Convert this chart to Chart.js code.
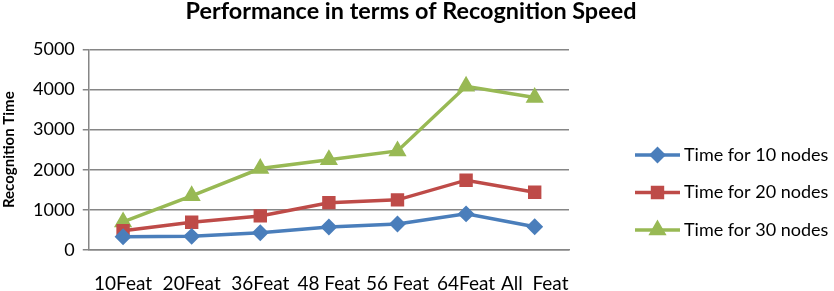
<!DOCTYPE html>
<html>
<head>
<meta charset="utf-8">
<script src="https://cdn.jsdelivr.net/npm/chart.js@4"></script>
<style>
  html, body { margin: 0; padding: 0; background: #fff; }
  #wrap { width: 834px; height: 291px; }
</style>
</head>
<body>
<div id="wrap"><canvas id="chart" width="834" height="291"></canvas></div>
<script>
// Data
const categories = ['10Feat', '20Feat', '36Feat', '48 Feat', '56 Feat', '64Feat', 'All  Feat'];
const time10 = [330, 340, 430, 575, 650, 900, 580];
const time20 = [480, 690, 850, 1180, 1250, 1740, 1440];
const time30 = [700, 1350, 2030, 2250, 2470, 4080, 3800];
const seriesNames = ['Time for 10 nodes', 'Time for 20 nodes', 'Time for 30 nodes'];
const yTicks = [0, 1000, 2000, 3000, 4000, 5000];

const FONT = 'Lato, "Open Sans", sans-serif';
const colors = ['#4a7ebb', '#be4b48', '#98b954'];
const styles = ['rectRot', 'rect', 'triangle'];
const radii = [6, 7, 7];

// Excel style legend: short line with the marker on top, to the right of the plot
const sideLegend = {
    id: 'sideLegend',
    afterDraw(chart) {
        const ctx = chart.ctx;
        const x0 = 635, x1 = 680, yStart = 155, step = 37.5;
        chart.data.datasets.forEach((ds, i) => {
            const y = yStart + i * step;
            ctx.save();
            ctx.strokeStyle = ds.borderColor;
            ctx.lineWidth = 3.5;
            ctx.beginPath();
            ctx.moveTo(x0, y);
            ctx.lineTo(x1, y);
            ctx.stroke();
            ctx.fillStyle = ds.pointBackgroundColor;
            ctx.strokeStyle = ds.pointBorderColor;
            if (Chart.helpers && Chart.helpers.drawPoint) {
                Chart.helpers.drawPoint(ctx, {
                    pointStyle: ds.pointStyle,
                    radius: ds.pointRadius,
                    borderWidth: 1,
                    rotation: 0
                }, (x0 + x1) / 2, y);
            }
            ctx.fillStyle = '#000';
            ctx.font = '18px ' + FONT;
            ctx.textBaseline = 'middle';
            ctx.textAlign = 'left';
            ctx.fillText(ds.label, x1 + 4, y);
            ctx.restore();
        });
    }
};

const datasets = [time10, time20, time30].map((vals, i) => ({
    label: seriesNames[i],
    data: vals,
    yAxisID: 'y',
    borderColor: colors[i],
    backgroundColor: colors[i],
    pointBackgroundColor: colors[i],
    pointBorderColor: colors[i],
    pointStyle: styles[i],
    pointRadius: radii[i],
    pointHoverRadius: radii[i],
    borderWidth: 3.5,
    tension: 0,
    fill: false
}));

new Chart(document.getElementById('chart').getContext('2d'), {
    type: 'line',
    data: { labels: categories, datasets: datasets },
    plugins: [sideLegend],
    options: {
        responsive: false,
        animation: false,
        devicePixelRatio: 1,
        layout: { padding: { left: 0, right: 12, top: 0, bottom: 0 } },
        plugins: {
            legend: { display: false },
            tooltip: { enabled: false },
            title: {
                display: true,
                text: 'Performance in terms of Recognition Speed',
                color: '#000',
                font: { family: FONT, size: 23.4, weight: 'bold', lineHeight: 1.0 },
                padding: { top: 0, bottom: 26 }
            }
        },
        scales: {
            x: {
                offset: true,
                grid: { display: false, drawTicks: false },
                border: { color: '#868686', width: 1.5 },
                ticks: { color: '#000', padding: 24, maxRotation: 0, autoSkip: false,
                         font: { family: FONT, size: 19, lineHeight: 1.0 } },
                // labels sit low, close to the bottom edge
                afterFit: (scale) => { scale.height = 41; }
            },
            y: {
                min: 0,
                max: 5000,
                afterBuildTicks: (axis) => { axis.ticks = yTicks.map(v => ({ value: v })); },
                grid: { color: '#868686', lineWidth: 1.5, tickLength: 6 },
                border: { color: '#868686', width: 1.5 },
                ticks: { color: '#000', padding: 8, font: { family: FONT, size: 18 },
                         callback: (v) => String(v) },
                title: {
                    display: true,
                    text: 'Recognition Time',
                    color: '#000',
                    font: { family: FONT, size: 15, weight: 'bold' },
                    padding: { top: 0, bottom: 7 }
                }
            },
            // empty axis that keeps the space on the right for the legend
            pad: {
                type: 'linear',
                axis: 'y',
                position: 'right',
                display: true,
                grid: { display: false },
                border: { display: false },
                ticks: { display: false },
                afterFit: (scale) => { scale.width = 253; }
            }
        }
    }
});
</script>
</body>
</html>
